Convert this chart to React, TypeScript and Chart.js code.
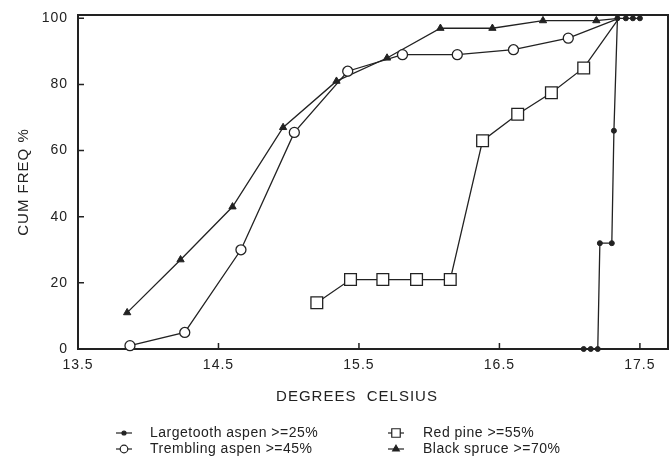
import React, { useEffect, useRef } from 'react';
import { Chart, registerables } from 'chart.js';

Chart.register(...registerables);

// ---- data ----
const seriesNames = [
  'Largetooth aspen >=25%',
  'Trembling aspen >=45%',
  'Red pine >=55%',
  'Black spruce >=70%',
];

const largetoothX = [17.1, 17.15, 17.2, 17.215, 17.3, 17.315, 17.34, 17.4, 17.45, 17.5];
const largetoothY = [0, 0, 0, 32, 32, 66, 100, 100, 100, 100];

const tremblingX = [13.87, 14.26, 14.66, 15.04, 15.42, 15.81, 16.2, 16.6, 16.99, 17.35];
const tremblingY = [1, 5, 30, 65.5, 84, 89, 89, 90.5, 94, 100];

const redPineX = [15.2, 15.44, 15.67, 15.91, 16.15, 16.38, 16.63, 16.87, 17.1, 17.35];
const redPineY = [14, 21, 21, 21, 21, 63, 71, 77.5, 85, 100];

const spruceX = [13.85, 14.23, 14.6, 14.96, 15.34, 15.7, 16.08, 16.45, 16.81, 17.19, 17.35];
const spruceY = [11, 27, 43, 67, 81, 88, 97, 97, 99.3, 99.3, 100];

const xTickValues = [13.5, 14.5, 15.5, 16.5, 17.5];
const yTickValues = [0, 20, 40, 60, 80, 100];

const xTitle = 'DEGREES  CELSIUS';
const yTitle = 'CUM FREQ %';

const INK = '#222222';
const FONT = '"Liberation Sans", Arial, Helvetica, sans-serif';

const toPoints = (xs: number[], ys: number[]) => xs.map((x, i) => ({ x, y: ys[i] }));

function drawMarker(ctx: CanvasRenderingContext2D, style: string, x: number, y: number, r: number, fill: string) {
  ctx.save();
  ctx.fillStyle = fill;
  ctx.strokeStyle = INK;
  ctx.lineWidth = 1.2;
  ctx.beginPath();
  if (style === 'circle') {
    ctx.arc(x, y, r, 0, Math.PI * 2);
  } else if (style === 'rect') {
    const s = r * Math.SQRT1_2;
    ctx.rect(x - s, y - s, 2 * s, 2 * s);
  } else if (style === 'triangle') {
    let a = 0;
    ctx.moveTo(x + Math.sin(a) * r, y - Math.cos(a) * r);
    a += (2 * Math.PI) / 3;
    ctx.lineTo(x + Math.sin(a) * r, y - Math.cos(a) * r);
    a += (2 * Math.PI) / 3;
    ctx.lineTo(x + Math.sin(a) * r, y - Math.cos(a) * r);
    ctx.closePath();
  }
  ctx.fill();
  ctx.stroke();
  ctx.restore();
}

const zeroPad = (s: any) => {
  s.paddingLeft = 0;
  s.paddingRight = 0;
  s.paddingTop = 0;
  s.paddingBottom = 0;
};

const framePlugin = {
  id: 'frameTicks',
  beforeDraw(chart: any) {
    chart.ctx.letterSpacing = '1px';
  },
  beforeDatasetsDraw(chart: any) {
    const { ctx, chartArea } = chart;
    const { left, right, top, bottom } = chartArea;
    ctx.save();
    ctx.strokeStyle = INK;
    ctx.lineWidth = 2;
    ctx.strokeRect(left, top, right - left, bottom - top);
    ctx.lineWidth = 1.5;
    const xs = chart.scales.x;
    const ys = chart.scales.y;
    ctx.beginPath();
    xs.ticks.forEach((t: any) => {
      const px = xs.getPixelForValue(t.value);
      ctx.moveTo(px, bottom);
      ctx.lineTo(px, bottom - 6);
    });
    ys.ticks.forEach((t: any) => {
      const py = ys.getPixelForValue(t.value);
      ctx.moveTo(left, py);
      ctx.lineTo(left + 6, py);
    });
    ctx.stroke();
    ctx.restore();
  },
  afterDraw(chart: any) {
    const ctx: CanvasRenderingContext2D = chart.ctx;
    const { left, right, bottom } = chart.chartArea;
    ctx.save();
    // x-axis title (set slightly left of centre, as in the original)
    ctx.letterSpacing = '1px';
    ctx.font = `15px ${FONT}`;
    ctx.fillStyle = INK;
    ctx.textAlign = 'center';
    ctx.textBaseline = 'middle';
    ctx.fillText(xTitle, (left + right) / 2 - 16, bottom + 48);

    // legend
    const colLine = [116, 388];
    const colText = [150, 423];
    const rowY = [433, 449];
    ctx.letterSpacing = '0.5px';
    ctx.font = `14px ${FONT}`;
    ctx.textAlign = 'left';
    chart.data.datasets.forEach((ds: any, i: number) => {
      const col = Math.floor(i / 2);
      const row = i % 2;
      const y = rowY[row];
      const x0 = colLine[col];
      ctx.strokeStyle = INK;
      ctx.lineWidth = 1.2;
      ctx.beginPath();
      ctx.moveTo(x0, y);
      ctx.lineTo(x0 + 16, y);
      ctx.stroke();
      drawMarker(ctx, ds.pointStyle, x0 + 8, y, ds.legendRadius, ds.pointBackgroundColor);
      ctx.fillStyle = INK;
      ctx.fillText(ds.label, colText[col], y);
    });
    ctx.restore();
  },
};

const hideAtTop = (r: number) => (c: any) => (c.raw && c.raw.y >= 100 ? 0 : r);

export default function App() {
  const ref = useRef<HTMLCanvasElement | null>(null);

  useEffect(() => {
    if (!ref.current) return;
    Chart.defaults.font.family = FONT;
    Chart.defaults.color = INK;
    const chart = new Chart(ref.current, {
      type: 'line',
      data: {
        datasets: [
          {
            label: seriesNames[0],
            data: toPoints(largetoothX, largetoothY),
            borderColor: INK,
            borderWidth: 1.3,
            pointStyle: 'circle',
            pointRadius: 2.5,
            legendRadius: 2,
            pointBackgroundColor: INK,
            pointBorderColor: INK,
            pointBorderWidth: 1,
            clip: false,
          } as any,
          {
            label: seriesNames[1],
            data: toPoints(tremblingX, tremblingY),
            borderColor: INK,
            borderWidth: 1.3,
            pointStyle: 'circle',
            pointRadius: hideAtTop(5),
            legendRadius: 3.8,
            pointBackgroundColor: '#ffffff',
            pointBorderColor: INK,
            pointBorderWidth: 1.3,
            clip: false,
          } as any,
          {
            label: seriesNames[2],
            data: toPoints(redPineX, redPineY),
            borderColor: INK,
            borderWidth: 1.3,
            pointStyle: 'rect',
            pointRadius: hideAtTop(8.3),
            legendRadius: 6,
            pointBackgroundColor: '#ffffff',
            pointBorderColor: INK,
            pointBorderWidth: 1.3,
            clip: false,
          } as any,
          {
            label: seriesNames[3],
            data: toPoints(spruceX, spruceY),
            borderColor: INK,
            borderWidth: 1.3,
            pointStyle: 'triangle',
            pointRadius: hideAtTop(4.2),
            legendRadius: 3.8,
            pointBackgroundColor: INK,
            pointBorderColor: INK,
            pointBorderWidth: 1,
            clip: false,
          } as any,
        ],
      },
      options: {
        responsive: false,
        animation: false,
        devicePixelRatio: 1,
        layout: { autoPadding: false, padding: { left: 0, right: 3, top: 15, bottom: 56 } },
        plugins: {
          legend: { display: false },
          tooltip: { enabled: false },
        },
        elements: { line: { tension: 0 } },
        scales: {
          x: {
            type: 'linear',
            min: 13.5,
            max: 17.7,
            grid: { display: false, drawTicks: false },
            border: { display: false },
            afterBuildTicks: (s: any) => {
              s.ticks = xTickValues.map((v) => ({ value: v }));
            },
            afterFit: (s: any) => {
              s.height = 57;
              zeroPad(s);
            },
            ticks: {
              autoSkip: false,
              maxRotation: 0,
              padding: 8,
              color: INK,
              font: { size: 14 },
              callback: (v: any) => Number(v).toFixed(1),
            },
            title: { display: false },
          },
          y: {
            type: 'linear',
            min: 0,
            max: 101,
            grid: { display: false, drawTicks: false },
            border: { display: false },
            afterBuildTicks: (s: any) => {
              s.ticks = yTickValues.map((v) => ({ value: v }));
            },
            afterFit: (s: any) => {
              s.width = 78;
              zeroPad(s);
            },
            ticks: {
              autoSkip: false,
              padding: 10,
              color: INK,
              font: { size: 14 },
              callback: (v: any) => String(v),
            },
            title: {
              display: true,
              text: yTitle,
              color: INK,
              font: { size: 15 },
              padding: { top: 15, bottom: 0 },
            },
          },
        },
      },
      plugins: [framePlugin],
    } as any);
    return () => chart.destroy();
  }, []);

  return (
    <div style={{ position: 'fixed', left: 0, top: 0, width: 671, height: 462, background: '#fff' }}>
      <canvas ref={ref} width={671} height={462} style={{ display: 'block' }} />
    </div>
  );
}
